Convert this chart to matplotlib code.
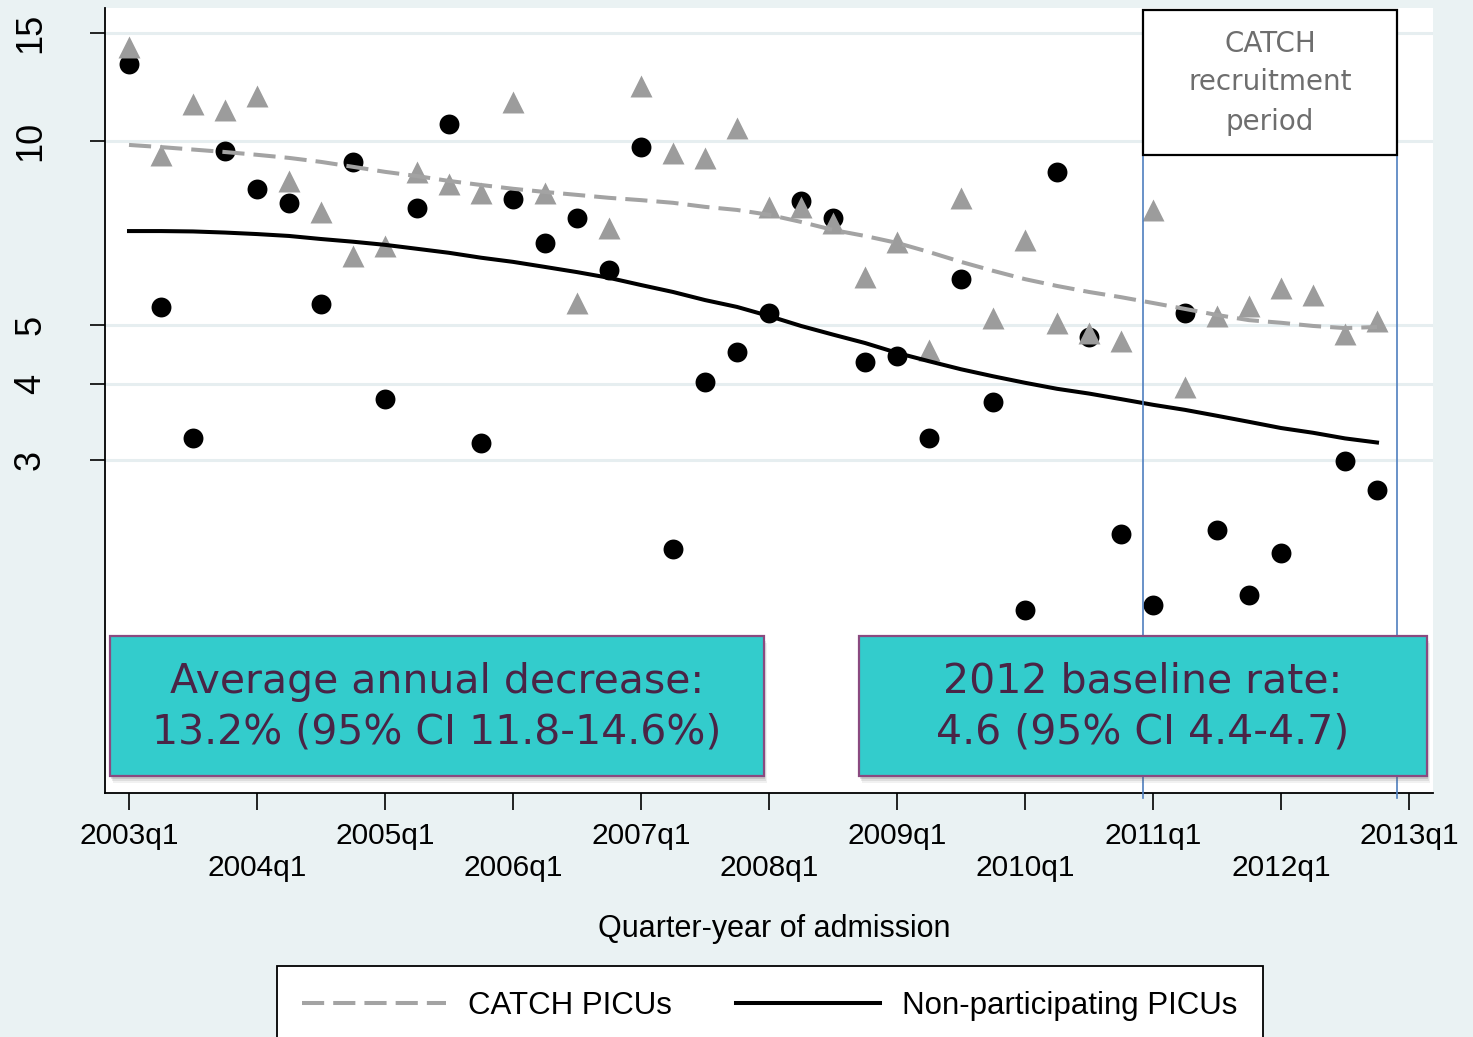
import numpy as np
import matplotlib
matplotlib.use("Agg")
import matplotlib.pyplot as plt
import matplotlib.transforms as mtransforms
from matplotlib.patches import Rectangle
from matplotlib.lines import Line2D

# ---- data (quarter index 0 = 2003q1) ----
quarters = np.arange(40)

catch_rate = [14.25, 9.49, 11.50, 11.24, 11.85, 8.60, 7.65, 6.48, 6.73, 8.90,
              8.50, 8.22, 11.58, 8.22, 5.43, 7.21, 12.30, 9.56, 9.38, 10.50,
              7.80, 7.80, 7.34, 5.99, 6.84, 4.55, 8.07, 5.13, 6.89, 5.04,
              4.85, 4.71, 7.71, 3.96, 5.17, 5.37, 5.75, 5.60, 4.83, 5.08]

nonpart_rate = [13.37, 5.35, 3.26, 9.63, 8.35, 7.92, 5.41, 9.24, 3.78, 7.77,
                10.66, 3.21, 8.04, 6.81, 7.48, 6.15, 9.77, 2.15, 4.03, 4.52,
                5.23, 7.98, 7.48, 4.35, 4.45, 3.26, 5.94, 3.74, 1.71, 8.90,
                4.78, 2.27, 1.74, 5.23, 2.31, 1.81, 2.12, 0.95, 2.99, 2.68]

catch_fit = [9.85, 9.77, 9.68, 9.59, 9.49, 9.38, 9.24, 9.07, 8.90, 8.76,
             8.60, 8.47, 8.35, 8.25, 8.16, 8.07, 8.00, 7.92, 7.80, 7.71,
             7.57, 7.37, 7.15, 6.99, 6.81, 6.58, 6.34, 6.13, 5.94, 5.79,
             5.66, 5.55, 5.43, 5.31, 5.19, 5.09, 5.04, 4.98, 4.94, 4.96]

nonpart_fit = [7.12, 7.12, 7.11, 7.08, 7.04, 6.99, 6.91, 6.84, 6.76, 6.66,
               6.56, 6.44, 6.34, 6.22, 6.10, 5.97, 5.81, 5.66, 5.49, 5.35,
               5.17, 4.98, 4.82, 4.67, 4.50, 4.36, 4.23, 4.12, 4.02, 3.93,
               3.86, 3.78, 3.70, 3.63, 3.55, 3.47, 3.39, 3.33, 3.26, 3.21]

xtick_pos = [0, 4, 8, 12, 16, 20, 24, 28, 32, 36, 40]
xtick_labels = ["2003q1", "2004q1", "2005q1", "2006q1", "2007q1", "2008q1",
                "2009q1", "2010q1", "2011q1", "2012q1", "2013q1"]
ytick_pos = [3, 4, 5, 10, 15]

# recruitment window, in quarter units
recruit_start, recruit_end = 31.69, 39.62

W, H = 1473, 1037
BG = "#EAF2F3"
TEAL = "#33CCCC"
PURPLE_EDGE = "#8A4A80"
PURPLE_TEXT = "#4A2446"
GREY_MARK = "#9C9C9C"
GREY_LINE = "#A3A3A3"

plt.rcParams["font.family"] = ["Liberation Sans", "DejaVu Sans"]

fig = plt.figure(figsize=(W / 100, H / 100), dpi=100, facecolor=BG)


def fx(px):
    return px / W


def fy(py):
    return 1 - py / H


ax = fig.add_axes([fx(105), fy(793), fx(1433) - fx(105), fy(8) - fy(793)])
ax.set_facecolor("white")
ax.set_yscale("log")
ax.set_xlim(-0.75, 40.75)
ax.set_ylim(0.857, 16.5)

for s in ["top", "right"]:
    ax.spines[s].set_visible(False)
for s in ["left", "bottom"]:
    ax.spines[s].set_linewidth(1.3)
    ax.spines[s].set_color("black")

# horizontal grid at labelled values
for v in ytick_pos:
    ax.axhline(v, color="#E6EEF0", lw=2.2, zorder=0)

ax.scatter(quarters, nonpart_rate, s=205, marker="o", color="black",
           linewidths=0, zorder=3)
ax.scatter(quarters, catch_rate, s=250, marker="^", color=GREY_MARK,
           linewidths=0, zorder=4)
ax.plot(quarters, catch_fit, color=GREY_LINE, lw=2.9, dashes=(5.5, 2.25),
        zorder=5)
ax.plot(quarters, nonpart_fit, color="black", lw=2.9, zorder=5)

ax.yaxis.set_major_locator(matplotlib.ticker.FixedLocator(ytick_pos))
ax.yaxis.set_minor_locator(matplotlib.ticker.NullLocator())
ax.set_yticklabels([str(v) for v in ytick_pos], rotation=90, va="center",
                   fontsize=26)
ax.tick_params(axis="y", length=11, width=1.2, pad=30)

ax.set_xticks(xtick_pos)
ax.set_xticklabels(xtick_labels, fontsize=21.5)
ax.tick_params(axis="x", length=12, width=1.2)
for i, t in enumerate(ax.xaxis.get_major_ticks()):
    t.set_pad(9 if i % 2 == 0 else 32)

fig.text(fx(774), fy(929), "Quarter-year of admission", fontsize=22,
         ha="center", va="center")

# recruitment period markers
blend = mtransforms.blended_transform_factory(ax.transData, ax.transAxes)
y_box_bottom = (793 - 155) / 785
y_box_top = (793 - 10) / 785
for xv in (recruit_start, recruit_end):
    ax.plot([xv, xv], [-0.007, y_box_bottom], transform=blend,
            color="#4F7FBF", lw=1.2, clip_on=False, zorder=6)
ax.add_patch(Rectangle((recruit_start, y_box_bottom),
                       recruit_end - recruit_start, y_box_top - y_box_bottom,
                       transform=blend, facecolor="white", edgecolor="black",
                       lw=1.6, clip_on=False, zorder=7))
ax.text((recruit_start + recruit_end) / 2, (y_box_bottom + y_box_top) / 2,
        "CATCH\nrecruitment\nperiod", transform=blend, ha="center",
        va="center", fontsize=20, color="#6E6E6E", family="DejaVu Sans",
        linespacing=1.5, zorder=8)

# teal callout boxes with soft shadow
def callout(x0, x1, y0, y1, text):
    for k, a in zip([7, 5, 3], [0.08, 0.12, 0.18]):
        fig.patches.append(Rectangle((fx(x0 + k * 0.4), fy(y1 + k)),
                                     fx(x1 - x0), fy(y0) - fy(y1),
                                     transform=fig.transFigure,
                                     facecolor="#555555", edgecolor="none",
                                     alpha=a, zorder=9))
    fig.patches.append(Rectangle((fx(x0), fy(y1)), fx(x1 - x0),
                                 fy(y0) - fy(y1), transform=fig.transFigure,
                                 facecolor=TEAL, edgecolor=PURPLE_EDGE,
                                 lw=1.6, zorder=10))
    fig.text(fx((x0 + x1) / 2), fy((y0 + y1) / 2 + 1), text, ha="center",
             va="center", fontsize=29.5, color=PURPLE_TEXT,
             family="DejaVu Sans", linespacing=1.33, zorder=11)


callout(110, 764, 636, 776, "Average annual decrease:\n13.2% (95% CI 11.8-14.6%)")
callout(859, 1427, 636, 776, "2012 baseline rate:\n4.6 (95% CI 4.4-4.7)")

handles = [Line2D([], [], color=GREY_LINE, lw=2.9, dashes=(5.5, 2.25)),
           Line2D([], [], color="black", lw=2.9)]
leg = fig.legend(handles, ["CATCH PICUs", "Non-participating PICUs"],
                 loc="upper left", bbox_to_anchor=(fx(277), fy(966)),
                 bbox_transform=fig.transFigure, ncol=2, fontsize=22.5,
                 handlelength=4.6, handletextpad=0.72, columnspacing=2.05,
                 borderpad=0.8, borderaxespad=0, fancybox=False,
                 edgecolor="black", framealpha=1)
leg.get_frame().set_linewidth(1.3)

fig.savefig("out.png", dpi=100, facecolor=BG)
